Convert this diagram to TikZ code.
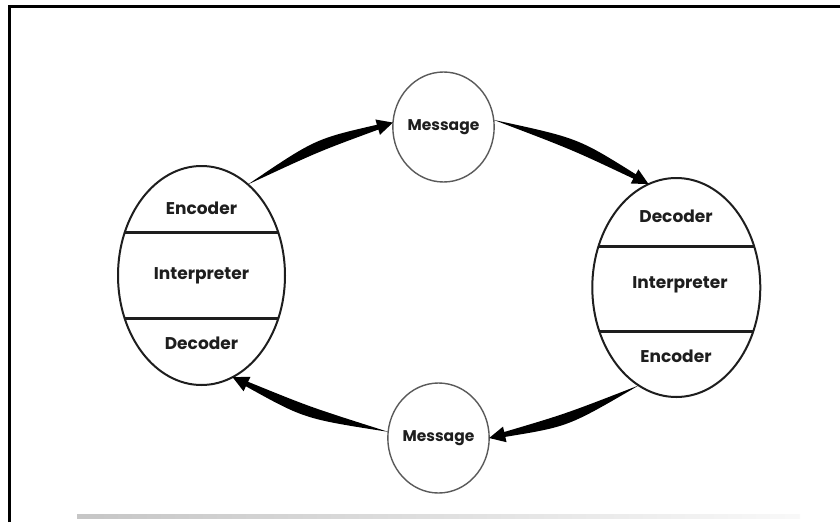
\documentclass[tikz,border=0pt]{standalone}
\usepackage{fontspec}
\newfontfamily\gothic{Poppins}
\usetikzlibrary{shapes.geometric,calc}
\definecolor{ink}{HTML}{1E1E1E}
\definecolor{msgline}{HTML}{5A5A5A}
\newcommand\wedgearrow[3]{%
  \coordinate (wS) at (#1);
  \coordinate (wT) at (#2);
  \coordinate (wC) at ($(wS)!0.5!(wT)!#3!90:(wT)$);
  \coordinate (wB) at ($(wT)!16pt!(wC)$);
  \fill[arrowfill] (wS) .. controls ($(wC)!6.5pt!90:(wB)$) .. ($(wB)!2.5pt!90:(wT)$)
     -- ($(wB)!8pt!90:(wT)$) -- (wT) -- ($(wB)!8pt!-90:(wT)$)
     -- ($(wB)!2.5pt!-90:(wT)$) .. controls ($(wC)!6.5pt!-90:(wB)$) .. cycle;}
\begin{document}
\begin{tikzpicture}[x=1pt,y=-1pt,
  bigell/.style={ellipse,draw=ink,line width=2pt,inner sep=0pt,outer sep=0pt},
  msgell/.style={ellipse,draw=msgline,line width=1.4pt,inner sep=0pt,outer sep=0pt,
     minimum width=81pt,minimum height=110pt,font=\gothic\bfseries\fontsize{15.5}{16}\selectfont,text=ink},
  lbl/.style={font=\gothic\bfseries\fontsize{17}{17}\selectfont,text=ink,inner sep=0pt},
  divider/.style={draw=ink,line width=3pt},
  arrowfill/.style={fill=black}]
\useasboundingbox (0,0) rectangle (840,522);
\fill[white] (0,0) rectangle (840,522);
% frame
\draw[line width=3pt] (9.5,522) -- (9.5,6.5) -- (840,6.5);
\shade[left color=gray!45,right color=gray!5] (77,514.5) rectangle (800,518);
% big ellipses
\node[bigell,minimum width=167pt,minimum height=219pt] (L) at (201.5,275.5) {};
\node[bigell,minimum width=168pt,minimum height=219pt] (R) at (676.3,287.5) {};
\begin{scope}
  \clip (201.5,275.5) ellipse [x radius=83.5pt, y radius=109.5pt];
  \draw[divider] (100,232.5) -- (300,232.5);
  \draw[divider] (100,318) -- (300,318);
\end{scope}
\begin{scope}
  \clip (676.3,287.5) ellipse [x radius=84pt, y radius=109.5pt];
  \draw[divider] (580,246.5) -- (780,246.5);
  \draw[divider] (580,331.5) -- (780,331.5);
\end{scope}
\node[lbl] (Lenc) at (201.5,208) {Encoder};
\node[lbl] (Lint) at (201.5,276) {Interpreter};
\node[lbl] (Ldec) at (201.5,343) {Decoder};
\node[lbl] (Rdec) at (676,216) {Decoder};
\node[lbl] (Rint) at (680,285) {Interpreter};
\node[lbl] (Renc) at (676,356) {Encoder};
% message ellipses
\node[msgell] (M1) at (443.5,127) {Message};
\node[msgell,minimum width=80pt] (M2) at (438.5,438) {Message};
% arrows
\wedgearrow{L.63}{M1.175}{9pt}
\wedgearrow{M1.8}{R.105}{9pt}
\wedgearrow{R.249}{M2.east}{9pt}
\wedgearrow{M2.173}{L.287}{9pt}
\end{tikzpicture}
\end{document}
